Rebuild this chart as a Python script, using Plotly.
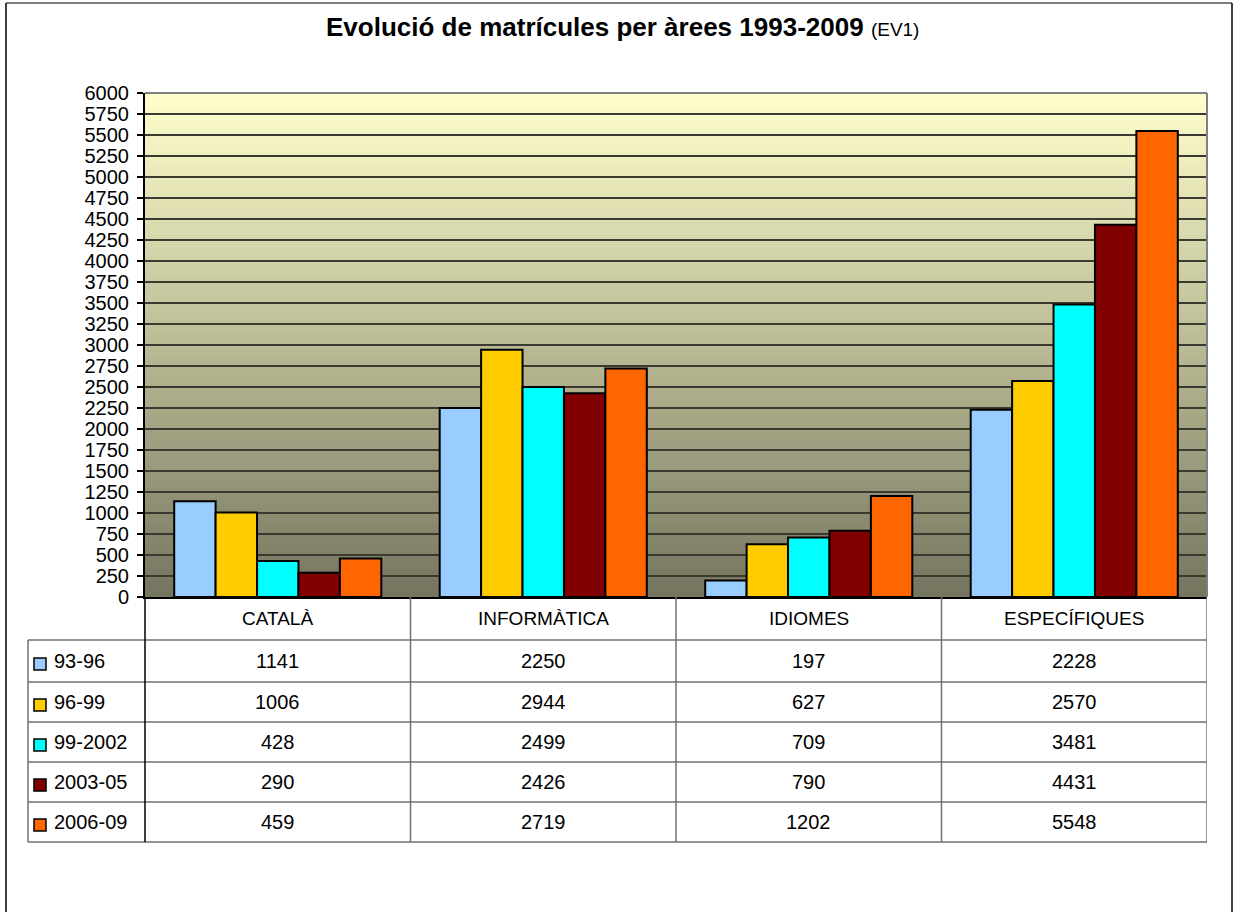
import plotly.graph_objects as go

categories = ["CATALÀ", "INFORMÀTICA", "IDIOMES", "ESPECÍFIQUES"]
series_names = ["93-96", "96-99", "99-2002", "2003-05", "2006-09"]
v_93_96 = [1141, 2250, 197, 2228]
v_96_99 = [1006, 2944, 627, 2570]
v_99_2002 = [428, 2499, 709, 3481]
v_2003_05 = [290, 2426, 790, 4431]
v_2006_09 = [459, 2719, 1202, 5548]
series_values = [v_93_96, v_96_99, v_99_2002, v_2003_05, v_2006_09]
colors = ["#99CCFF", "#FFCC00", "#00FFFF", "#800000", "#FF6600"]
y_ticks = list(range(0, 6001, 250))

W, H = 1234, 912
L, R, T, B = 145, 1207, 93, 597
FONT = "Liberation Sans, Arial, sans-serif"


def px(x):
    return (x - L) / (R - L)


def py(y):
    return (B - y) / (B - T)


fig = go.Figure()
for name, vals, col in zip(series_names, series_values, colors):
    fig.add_trace(go.Bar(
        x=categories, y=vals, name=name,
        marker=dict(color=col, line=dict(color="black", width=2)),
    ))

shapes = []
# gradient background
n = 120
top = (255, 255, 204)
bot = (118, 118, 96)
for i in range(n):
    t = i / (n - 1)
    c = tuple(round(bot[k] + (top[k] - bot[k]) * t) for k in range(3))
    shapes.append(dict(type="rect", xref="paper", yref="paper",
                       x0=0, x1=1, y0=i / n, y1=(i + 1) / n + 0.002,
                       fillcolor="rgb(%d,%d,%d)" % c, line=dict(width=0),
                       layer="below"))
# plot border (top/right grey)
shapes.append(dict(type="line", xref="paper", yref="paper", x0=0, x1=1, y0=1, y1=1,
                   line=dict(color="#808080", width=2)))
shapes.append(dict(type="line", xref="paper", yref="paper", x0=1, x1=1, y0=0, y1=1,
                   line=dict(color="#808080", width=2)))

# outer frame
shapes.append(dict(type="line", xref="paper", yref="paper", x0=px(6), x1=px(1232),
                   y0=py(3), y1=py(3), line=dict(color="black", width=1)))
shapes.append(dict(type="line", xref="paper", yref="paper", x0=px(6), x1=px(6),
                   y0=py(3), y1=py(915), line=dict(color="black", width=1.5)))
shapes.append(dict(type="line", xref="paper", yref="paper", x0=px(1232), x1=px(1232),
                   y0=py(3), y1=py(915), line=dict(color="black", width=1.5)))

# data table
row_edges = [640, 682, 722, 762, 802, 842]
for yy in row_edges:
    shapes.append(dict(type="line", xref="paper", yref="paper", x0=px(28), x1=1,
                       y0=py(yy), y1=py(yy), line=dict(color="#707070", width=1.5)))
shapes.append(dict(type="line", xref="paper", yref="paper", x0=px(28), x1=px(28),
                   y0=py(640), y1=py(842), line=dict(color="#707070", width=1.5)))
shapes.append(dict(type="line", xref="paper", yref="paper", x0=0, x1=0,
                   y0=0, y1=py(842), line=dict(color="black", width=1.5)))
for k in range(1, len(categories) + 1):
    shapes.append(dict(type="line", xref="x", yref="paper", x0=k - 0.5, x1=k - 0.5,
                       y0=0, y1=py(842), line=dict(color="#707070", width=1.5)))

annotations = []
# header
for cat in categories:
    annotations.append(dict(x=cat, xref="x", y=py(618), yref="paper", text=cat,
                            xanchor="center", yanchor="middle",
                            showarrow=False, font=dict(size=19, color="black", family=FONT)))
row_centers = [661, 702, 742, 782, 822]
for name, vals, col, yc in zip(series_names, series_values, colors, row_centers):
    shapes.append(dict(type="rect", xref="paper", yref="paper",
                       x0=px(34), x1=px(46), y0=py(yc + 9), y1=py(yc - 3),
                       fillcolor=col, line=dict(color="black", width=1.5)))
    annotations.append(dict(x=px(52), xref="paper", y=py(yc), yref="paper", text=name,
                            xanchor="left", yanchor="middle", showarrow=False,
                            font=dict(size=20, color="black", family=FONT)))
    for cat, v in zip(categories, vals):
        annotations.append(dict(x=cat, xref="x", y=py(yc), yref="paper", text=str(v),
                                xanchor="center", yanchor="middle",
                                showarrow=False, font=dict(size=20, color="black", family=FONT)))

# title
annotations.append(dict(x=px(622), xref="paper", y=py(27), yref="paper",
                        xanchor="center", yanchor="middle",
                        text="<b>Evolució de matrícules per àrees 1993-2009</b> <span style='font-size:19px'>(EV1)</span>",
                        showarrow=False, font=dict(size=26, color="black", family=FONT)))

fig.update_layout(
    width=W, height=H,
    margin=dict(l=L, r=W - R, t=T, b=H - B, pad=0),
    paper_bgcolor="white", plot_bgcolor="rgba(0,0,0,0)",
    barmode="group", bargap=0.22, bargroupgap=0,
    showlegend=False,
    font=dict(family=FONT, size=20, color="black"),
    shapes=shapes, annotations=annotations,
)
fig.update_xaxes(showticklabels=False, showgrid=False, showline=True,
                 linecolor="black", linewidth=2, ticks="", range=[-0.5, 3.5])
fig.update_yaxes(range=[0, 6000], tickvals=y_ticks, ticks="outside", ticklen=6,
                 tickcolor="black", tickwidth=1.5, showline=True, linecolor="black",
                 linewidth=2, showgrid=True, gridcolor="#3a3a30", gridwidth=1.5,
                 zeroline=False, ticklabelstandoff=4,
                 tickfont=dict(size=20, family=FONT, color="black"))

fig.write_html("out.html", config={"displayModeBar": False},
               post_script="document.body.style.margin='0';")
